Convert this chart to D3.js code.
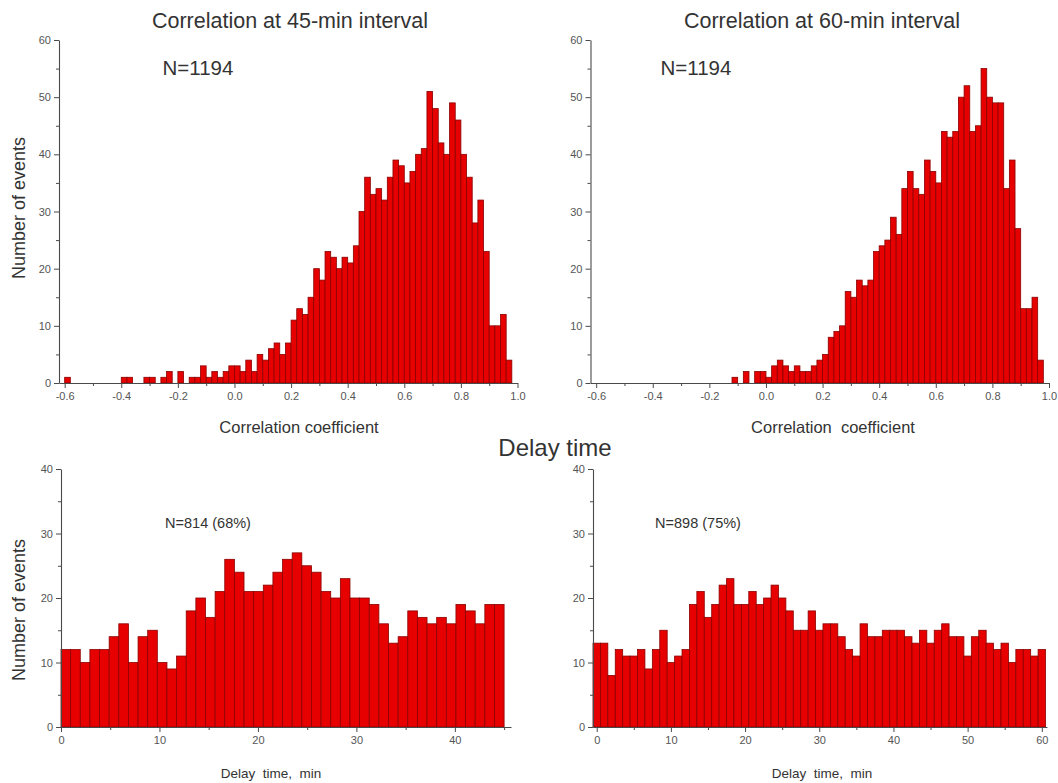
<!DOCTYPE html>
<html>
<head>
<meta charset="utf-8">
<script src="https://cdn.jsdelivr.net/npm/d3@7"></script>
<style>
  html, body { margin: 0; padding: 0; background: #fff; }
  svg { display: block; font-family: Arial, "Liberation Sans", sans-serif; }
</style>
</head>
<body>
<svg id="chart" width="1058" height="783"></svg>
<script>
// ---- Correlation histograms: 80 bins of width 0.02 starting at -0.6 ----
const corrBinStart = -0.6;
const corrBinWidth = 0.02;
const corr45Counts = [
  1, 0, 0, 0, 0, 0, 0, 0, 0, 0,
  1, 1, 0, 0, 1, 1, 0, 1, 2, 0,
  2, 0, 1, 1, 3, 1, 2, 1, 2, 3,
  3, 2, 4, 2, 5, 4, 6, 7, 5, 7,
  11, 13, 12, 15, 20, 18, 23, 22, 20, 22,
  21, 24, 30, 36, 33, 34, 32, 36, 39, 38,
  35, 37, 40, 41, 51, 48, 42, 40, 49, 46,
  40, 36, 28, 32, 23, 10, 10, 12, 4, 0
];
const corr60Counts = [
  0, 0, 0, 0, 0, 0, 0, 0, 0, 0,
  0, 0, 0, 0, 0, 0, 0, 0, 0, 0,
  0, 0, 0, 0, 1, 0, 2, 0, 2, 2,
  1, 3, 4, 3, 2, 3, 2, 2, 3, 4,
  5, 8, 9, 10, 16, 15, 18, 17, 18, 23,
  24, 25, 29, 26, 34, 37, 34, 33, 39, 37,
  35, 44, 43, 44, 50, 52, 44, 45, 55, 50,
  49, 49, 34, 39, 27, 13, 13, 15, 4, 0
];
const corrTicks = [-0.6, -0.4, -0.2, 0.0, 0.2, 0.4, 0.6, 0.8, 1.0];
const corrMinorTicks = [-0.5, -0.3, -0.1, 0.1, 0.3, 0.5, 0.7, 0.9];
const countTicksTop = [0, 10, 20, 30, 40, 50, 60];
const countMinorTop = [5, 15, 25, 35, 45, 55];

// ---- Delay time histograms ----
// 45-min interval: 46 bins spanning 0..45 min
const delay45Counts = [
  12, 12, 10, 12, 12, 14, 16, 10, 14, 15,
  10, 9, 11, 18, 20, 17, 21, 26, 24, 21,
  21, 22, 24, 26, 27, 25, 24, 21, 20, 23,
  20, 20, 19, 16, 13, 14, 18, 17, 16, 17,
  16, 19, 18, 16, 19, 19
];
const delay45Span = 45;
// 60-min interval: one bar per minute, 0..60
const delay60Counts = [
  13, 13, 8, 12, 11, 11, 12, 9, 12, 15,
  10, 11, 12, 19, 21, 17, 19, 22, 23, 19,
  19, 21, 19, 20, 22, 20, 18, 15, 15, 18,
  15, 16, 16, 14, 12, 11, 16, 14, 14, 15,
  15, 15, 14, 13, 15, 13, 15, 16, 14, 14,
  11, 14, 15, 13, 12, 13, 10, 12, 12, 11,
  12
];
const delay45Ticks = [0, 10, 20, 30, 40];
const delay45Minor = [5, 15, 25, 35, 45];
const delay60Ticks = [0, 10, 20, 30, 40, 50, 60];
const delay60Minor = [5, 15, 25, 35, 45, 55];
const countTicksBottom = [0, 10, 20, 30, 40];
const countMinorBottom = [5, 15, 25, 35];

const svg = d3.select("#chart");
const axisColor = "#4a4a4a";
const textColor = "#333";
const barFill = "#e60000";
const barStroke = "#8a0000";

function styleAxis(sel) {
  sel.select(".domain").attr("stroke", axisColor).attr("stroke-width", 1.1);
  sel.selectAll(".tick line").attr("stroke", axisColor).attr("stroke-width", 1);
  sel.selectAll(".tick text")
    .attr("fill", "#555")
    .style("font-size", "11px")
    .style("font-family", "Arial, 'Liberation Sans', sans-serif");
}

function drawPanel(cfg) {
  const g = svg.append("g");
  const x = d3.scaleLinear().domain(cfg.xDomain).range(cfg.xRange);
  const y = d3.scaleLinear().domain(cfg.yDomain).range(cfg.yRange);

  // bars
  g.append("g").selectAll("rect")
    .data(cfg.bins.filter(b => b.count > 0))
    .join("rect")
    .attr("x", d => x(d.x0))
    .attr("width", d => x(d.x1) - x(d.x0))
    .attr("y", d => y(d.count))
    .attr("height", d => y(0) - y(d.count))
    .attr("fill", barFill)
    .attr("stroke", barStroke)
    .attr("stroke-width", 0.8);

  // x axis: major + minor ticks
  const xAxis = g.append("g").attr("transform", `translate(0,${y(0)})`)
    .call(d3.axisBottom(x).tickValues(cfg.xTicks).tickSize(5).tickSizeOuter(0)
      .tickPadding(4).tickFormat(cfg.xFormat));
  styleAxis(xAxis);
  const xMinor = g.append("g").attr("transform", `translate(0,${y(0)})`)
    .call(d3.axisBottom(x).tickValues(cfg.xMinor).tickSize(3).tickFormat(""));
  styleAxis(xMinor);
  xMinor.select(".domain").remove();

  // y axis: major + minor ticks
  const yAxis = g.append("g").attr("transform", `translate(${cfg.xRange[0]},0)`)
    .call(d3.axisLeft(y).tickValues(cfg.yTicks).tickSize(5).tickSizeOuter(0)
      .tickPadding(3).tickFormat(d3.format("d")));
  styleAxis(yAxis);
  const yMinor = g.append("g").attr("transform", `translate(${cfg.xRange[0]},0)`)
    .call(d3.axisLeft(y).tickValues(cfg.yMinor).tickSize(3).tickFormat(""));
  styleAxis(yMinor);
  yMinor.select(".domain").remove();
}

function text(x, y, str, size, opts = {}) {
  const t = svg.append("text")
    .attr("x", x).attr("y", y)
    .attr("text-anchor", opts.anchor || "middle")
    .attr("fill", opts.fill || textColor)
    .style("font-size", size + "px")
    .style("white-space", "pre")
    .text(str);
  if (opts.rotate) t.attr("transform", `rotate(-90,${x},${y})`);
  return t;
}

const corrBins = counts => counts.map((c, i) => ({
  x0: corrBinStart + i * corrBinWidth,
  x1: corrBinStart + (i + 1) * corrBinWidth,
  count: c
}));
const fmt1 = d => d.toFixed(1);

// Top-left: correlation at 45-min interval
drawPanel({
  bins: corrBins(corr45Counts),
  xDomain: [-0.62, 1.0], xRange: [59, 517.5],
  yDomain: [0, 60], yRange: [383, 40],
  xTicks: corrTicks, xMinor: corrMinorTicks, xFormat: fmt1,
  yTicks: countTicksTop, yMinor: countMinorTop
});

// Top-right: correlation at 60-min interval
drawPanel({
  bins: corrBins(corr60Counts),
  xDomain: [-0.62, 1.0], xRange: [590.5, 1049],
  yDomain: [0, 60], yRange: [383, 40],
  xTicks: corrTicks, xMinor: corrMinorTicks, xFormat: fmt1,
  yTicks: countTicksTop, yMinor: countMinorTop
});

// Bottom-left: delay time, 45-min interval
const w45 = delay45Span / delay45Counts.length;
drawPanel({
  bins: delay45Counts.map((c, i) => ({ x0: i * w45, x1: (i + 1) * w45, count: c })),
  xDomain: [0, 45.7], xRange: [61, 511],
  yDomain: [0, 40], yRange: [727, 469],
  xTicks: delay45Ticks, xMinor: delay45Minor, xFormat: d3.format("d"),
  yTicks: countTicksBottom, yMinor: countMinorBottom
});

// Bottom-right: delay time, 60-min interval (bars centred on each minute)
drawPanel({
  bins: delay60Counts.map((c, i) => ({ x0: i - 0.5, x1: i + 0.5, count: c })),
  xDomain: [-0.5, 60.7], xRange: [593, 1047],
  yDomain: [0, 40], yRange: [727, 469],
  xTicks: delay60Ticks, xMinor: delay60Minor, xFormat: d3.format("d"),
  yTicks: countTicksBottom, yMinor: countMinorBottom
});

// Titles and annotations
text(290, 28, "Correlation at 45-min interval", 21.5);
text(822, 28, "Correlation at 60-min interval", 21.5);
text(198, 75, "N=1194", 20.5);
text(696, 75, "N=1194", 20.5);
text(299, 433, "Correlation coefficient", 16.5);
text(833, 433, "Correlation  coefficient", 16.5);
text(555, 456, "Delay time", 24);
text(208, 528, "N=814 (68%)", 14.5);
text(698, 528, "N=898 (75%)", 14.5);
text(271, 778, "Delay  time,  min", 13.5);
text(822, 778, "Delay  time,  min", 13.5);
text(25, 208, "Number of events", 18, { rotate: true });
text(25, 610, "Number of events", 18, { rotate: true });
</script>
</body>
</html>
